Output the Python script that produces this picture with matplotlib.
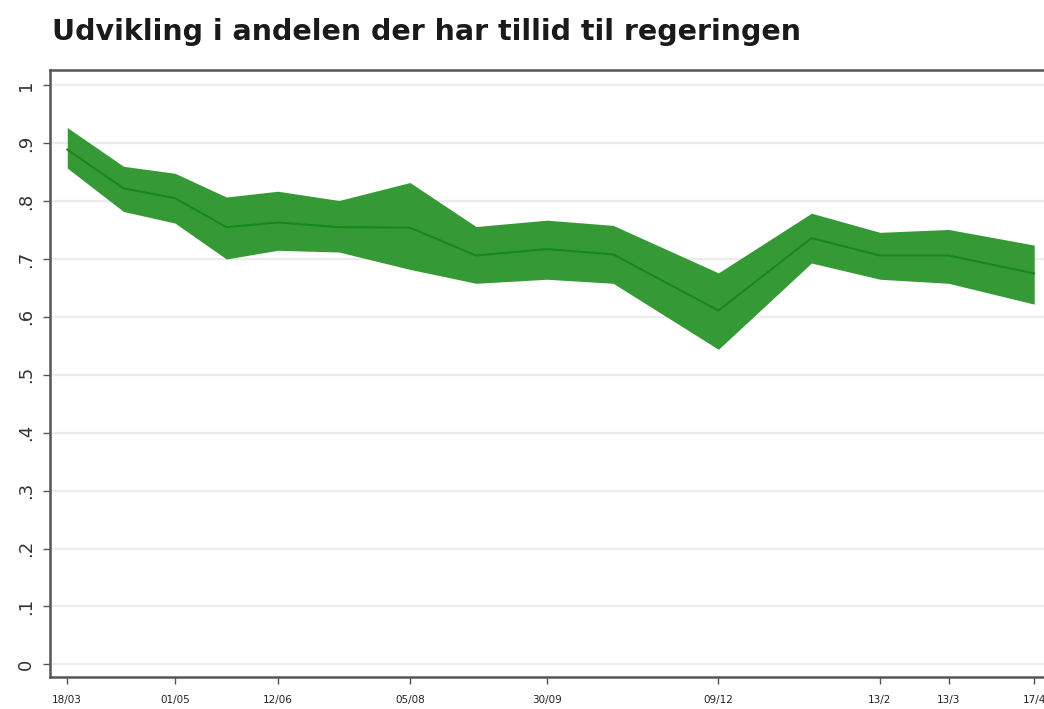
import matplotlib
matplotlib.use("Agg")
import matplotlib.pyplot as plt
import numpy as np

# survey dates and estimated share with confidence band
dates = ["2020-03-18", "2020-04-10", "2020-05-01", "2020-05-22", "2020-06-12",
         "2020-07-07", "2020-08-05", "2020-09-01", "2020-09-30", "2020-10-27",
         "2020-12-09", "2021-01-16", "2021-02-13", "2021-03-13", "2021-04-17"]
share = [0.889, 0.822, 0.805, 0.755, 0.763, 0.755, 0.754, 0.706, 0.717, 0.708,
         0.611, 0.736, 0.706, 0.706, 0.675]
upper = [0.927, 0.860, 0.848, 0.807, 0.817, 0.801, 0.832, 0.756, 0.767, 0.758,
         0.676, 0.779, 0.746, 0.751, 0.724]
lower = [0.857, 0.782, 0.762, 0.700, 0.715, 0.712, 0.682, 0.658, 0.665, 0.658,
         0.544, 0.693, 0.665, 0.658, 0.622]

tick_dates = ["2020-03-18", "2020-05-01", "2020-06-12", "2020-08-05", "2020-09-30",
              "2020-12-09", "2021-02-13", "2021-03-13", "2021-04-17"]
tick_labels = ["18/03", "01/05", "12/06", "05/08", "30/09", "09/12", "13/2", "13/3", "17/4"]
y_ticks = [0, .1, .2, .3, .4, .5, .6, .7, .8, .9, 1]
y_labels = ["0", ".1", ".2", ".3", ".4", ".5", ".6", ".7", ".8", ".9", "1"]

x = np.array(dates, dtype="datetime64[D]")
xt = np.array(tick_dates, dtype="datetime64[D]")

fig = plt.figure(figsize=(10.44, 7.09), dpi=100)
ax = fig.add_axes([0.048, 0.045, 0.952, 0.856])

for yv in y_ticks:
    ax.axhline(yv, color="#ececec", lw=1.6, zorder=0)

ax.fill_between(x, lower, upper, color="#359a35", lw=0, zorder=2)
ax.plot(x, share, color="#168816", lw=1.4, zorder=3)

# image is cropped on the right, so the axis runs to the figure edge
ax.set_xlim(np.datetime64("2020-03-11"), np.datetime64("2021-04-21"))
ax.set_ylim(-0.022, 1.026)

ax.set_xticks(xt)
ax.set_xticklabels(tick_labels, fontsize=7.5, fontfamily="Liberation Sans Narrow", color="#222222")
ax.set_yticks(y_ticks)
ax.set_yticklabels(y_labels, fontsize=13, rotation=90, va="center", color="#333333")

for s in ["left", "top", "bottom"]:
    ax.spines[s].set_color("#555555")
    ax.spines[s].set_linewidth(1.8)
ax.spines["right"].set_visible(False)
ax.tick_params(axis="both", direction="out", length=5, width=1, color="#555555")
ax.tick_params(axis="x", pad=8)
ax.tick_params(axis="y", pad=6)

fig.text(0.05, 0.955, "Udvikling i andelen der har tillid til regeringen",
         fontsize=20.5, fontweight="bold", color="#1a1a1a", va="center", ha="left")

fig.savefig("out.png", dpi=100)
